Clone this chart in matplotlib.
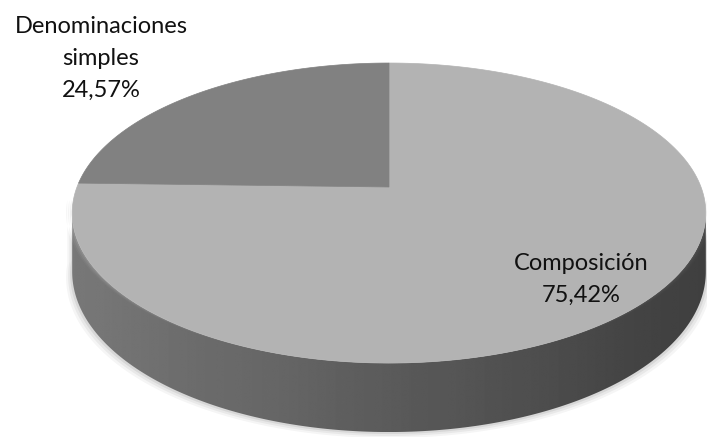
import numpy as np
import matplotlib
matplotlib.use('Agg')
import matplotlib.pyplot as plt
from matplotlib.patches import Polygon

# data
labels = ['Composición', 'Denominaciones simples']
values = [75.42, 24.57]
label_lines = [['Composición', '75,42%'], ['Denominaciones', 'simples', '24,57%']]

top_colors = [0.70, 0.505]     # gray level of each slice's top face
label_xy = [(581, 270), (101, 33)]  # centre x, first baseline (pixels)

# 3d pie geometry, in pixels
CX, CY = 389, 187
R, RY = 312, 145.5
K = 5.76          # perspective strength
H = 57            # thickness

fig = plt.figure(figsize=(7.07, 4.37), dpi=100)
ax = fig.add_axes([0, 0, 1, 1])
ax.set_xlim(0, 707)
ax.set_ylim(437, 0)
ax.axis('off')


def project(phi, drop=0.0):
    # phi in degrees, clockwise from 12 o'clock
    p = np.radians(phi)
    s = K / (K + np.cos(p))
    return CX + R * np.sin(p) * s, CY + (-RY * np.cos(p) + drop) * s


total = sum(values)
bounds = np.concatenate([[0], np.cumsum(values) / total * 360])
sil = np.degrees(np.arccos(-1 / K))   # where the side wall becomes visible

# soft shadow under the disc
ph = np.linspace(sil - 5, 360 - sil + 5, 200)
bx, by = project(ph, H)
tx, ty = project(ph[::-1], 0)
for grow, a in [(6, 0.04), (4, 0.05), (2, 0.07)]:
    sx = CX + (np.concatenate([bx, tx]) - CX) * (1 + grow / R)
    sy = np.concatenate([by + grow, ty])
    ax.add_patch(Polygon(np.column_stack([sx, sy]), closed=True,
                         facecolor='black', edgecolor='none', alpha=a))

# side walls: horizontal gradient clipped to each wall outline
gx = np.linspace(0, 1, 512)
for i in range(len(values)):
    a0 = max(bounds[i], sil)
    a1 = min(bounds[i + 1], 360 - sil)
    if a1 <= a0:
        continue
    ph = np.linspace(a0, a1, 300)
    x0, y0 = project(ph, 0)
    x1, y1 = project(ph[::-1], H)
    wall = Polygon(np.column_stack([np.concatenate([x0, x1]), np.concatenate([y0, y1])]),
                   closed=True, facecolor='none', edgecolor='none')
    ax.add_patch(wall)
    xmin, xmax = min(x0.min(), x1.min()), max(x0.max(), x1.max())
    ymin, ymax = min(y0.min(), y1.min()), max(y0.max(), y1.max())
    shade = top_colors[i] * (0.80 - 0.38 * gx)
    img = ax.imshow(shade[np.newaxis, :], cmap='gray', vmin=0, vmax=1,
                    extent=[xmin, xmax, ymax, ymin], aspect='auto',
                    interpolation='bilinear')
    img.set_clip_path(wall)

# top faces
for i in range(len(values)):
    ph = np.linspace(bounds[i], bounds[i + 1], 200)
    x, y = project(ph, 0)
    pts = np.column_stack([np.concatenate([[CX], x]), np.concatenate([[CY], y])])
    g = top_colors[i]
    ax.add_patch(Polygon(pts, closed=True, facecolor=(g, g, g),
                         edgecolor=(g, g, g), linewidth=0.5))

ax.set_xlim(0, 707)
ax.set_ylim(437, 0)

# labels
for lines, (lx, ly) in zip(label_lines, label_xy):
    for k, line in enumerate(lines):
        ax.text(lx, ly + 32 * k, line, ha='center', va='baseline',
                fontsize=17, family=['Lato', 'DejaVu Sans'], color='#111111')

fig.savefig('out.png', dpi=100)
